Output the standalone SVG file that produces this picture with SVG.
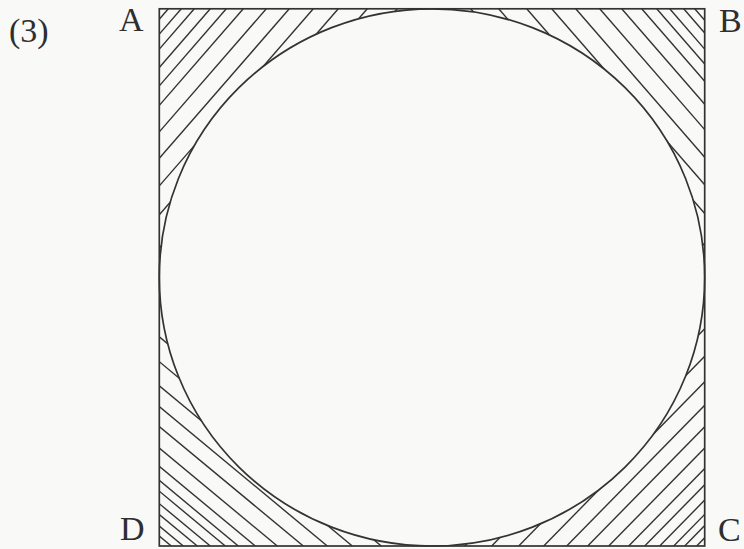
<svg xmlns="http://www.w3.org/2000/svg" width="744" height="549" viewBox="0 0 744 549">
<style>
.edge{fill:none;stroke:#333;stroke-width:1.7}
.hatch{fill:none;stroke:#333;stroke-width:1.4}
.lbl{font-family:"Liberation Serif","DejaVu Serif",serif;font-size:34px;fill:#2e2e2e}
</style>
<defs>
<clipPath id="outside">
<path clip-rule="evenodd" d="M159.3,8.8 H704.7 V546 H159.3 Z M159.3,277.4 A272.7,268.6 0 1 0 704.7,277.4 A272.7,268.6 0 1 0 159.3,277.4 Z"/>
</clipPath>
</defs>
<rect x="0" y="0" width="744" height="549" fill="#f9f9f7"/>
<g id="hatching" clip-path="url(#outside)">
<g id="hatch-A" class="hatch">
<line x1="168.3" y1="8.8" x2="159.3" y2="19.2"/>
<line x1="181.3" y1="8.8" x2="159.3" y2="34.1"/>
<line x1="194.3" y1="8.8" x2="159.3" y2="49.1"/>
<line x1="210.3" y1="8.8" x2="159.3" y2="67.5"/>
<line x1="226.3" y1="8.8" x2="159.3" y2="85.9"/>
<line x1="243.3" y1="8.8" x2="159.3" y2="105.4"/>
<line x1="266.3" y1="8.8" x2="159.3" y2="131.9"/>
<line x1="289.3" y1="8.8" x2="159.3" y2="158.3"/>
<line x1="313.3" y1="8.8" x2="159.3" y2="185.9"/>
<line x1="338.3" y1="8.8" x2="159.3" y2="214.7"/>
<line x1="367.3" y1="8.8" x2="159.3" y2="248"/>
<line x1="397.3" y1="8.8" x2="159.3" y2="282.5"/>
</g>
<g id="hatch-B" class="hatch">
<line x1="694.7" y1="8.8" x2="704.7" y2="20.3"/>
<line x1="683.7" y1="8.8" x2="704.7" y2="33"/>
<line x1="669.7" y1="8.8" x2="704.7" y2="49.1"/>
<line x1="656.7" y1="8.8" x2="704.7" y2="64"/>
<line x1="641.7" y1="8.8" x2="704.7" y2="81.3"/>
<line x1="621.7" y1="8.8" x2="704.7" y2="104.3"/>
<line x1="599.7" y1="8.8" x2="704.7" y2="129.6"/>
<line x1="575.7" y1="8.8" x2="704.7" y2="157.2"/>
<line x1="551.7" y1="8.8" x2="704.7" y2="184.8"/>
<line x1="526.7" y1="8.8" x2="704.7" y2="213.5"/>
<line x1="498.7" y1="8.8" x2="704.7" y2="245.7"/>
<line x1="470.7" y1="8.8" x2="704.7" y2="277.9"/>
</g>
<g id="hatch-D" class="hatch">
<line x1="171.3" y1="546" x2="159.3" y2="536"/>
<line x1="183.3" y1="546" x2="159.3" y2="526.1"/>
<line x1="197.3" y1="546" x2="159.3" y2="514.5"/>
<line x1="210.3" y1="546" x2="159.3" y2="503.7"/>
<line x1="225.3" y1="546" x2="159.3" y2="491.2"/>
<line x1="238.3" y1="546" x2="159.3" y2="480.4"/>
<line x1="255.3" y1="546" x2="159.3" y2="466.3"/>
<line x1="277.3" y1="546" x2="159.3" y2="448.1"/>
<line x1="303.3" y1="546" x2="159.3" y2="426.5"/>
<line x1="327.3" y1="546" x2="159.3" y2="406.6"/>
<line x1="352.3" y1="546" x2="159.3" y2="385.8"/>
<line x1="381.3" y1="546" x2="159.3" y2="361.7"/>
<line x1="411.3" y1="546" x2="159.3" y2="336.8"/>
</g>
<g id="hatch-C" class="hatch">
<line x1="696.7" y1="546" x2="704.7" y2="537.8"/>
<line x1="684.7" y1="546" x2="704.7" y2="525.6"/>
<line x1="673.7" y1="546" x2="704.7" y2="514.4"/>
<line x1="659.7" y1="546" x2="704.7" y2="500.1"/>
<line x1="644.7" y1="546" x2="704.7" y2="484.8"/>
<line x1="628.7" y1="546" x2="704.7" y2="468.5"/>
<line x1="608.7" y1="546" x2="704.7" y2="448.1"/>
<line x1="587.7" y1="546" x2="704.7" y2="426.7"/>
<line x1="566.7" y1="546" x2="704.7" y2="405.2"/>
<line x1="543.7" y1="546" x2="704.7" y2="381.8"/>
<line x1="518.7" y1="546" x2="704.7" y2="356.3"/>
<line x1="491.7" y1="546" x2="704.7" y2="328.7"/>
<line x1="464.7" y1="546" x2="704.7" y2="301.2"/>
</g>
</g>
<g id="square">
<rect class="edge" x="159.3" y="8.8" width="545.4" height="537.2"/>
</g>
<g id="circle">
<ellipse class="edge" cx="432" cy="277.4" rx="272.7" ry="268.6"/>
</g>
<g id="labels">
<text class="lbl" x="9" y="42">(3)</text>
<text class="lbl" x="119" y="31">A</text>
<text class="lbl" x="719" y="32">B</text>
<text class="lbl" x="120" y="540">D</text>
<text class="lbl" x="718" y="541">C</text>
</g>
</svg>
